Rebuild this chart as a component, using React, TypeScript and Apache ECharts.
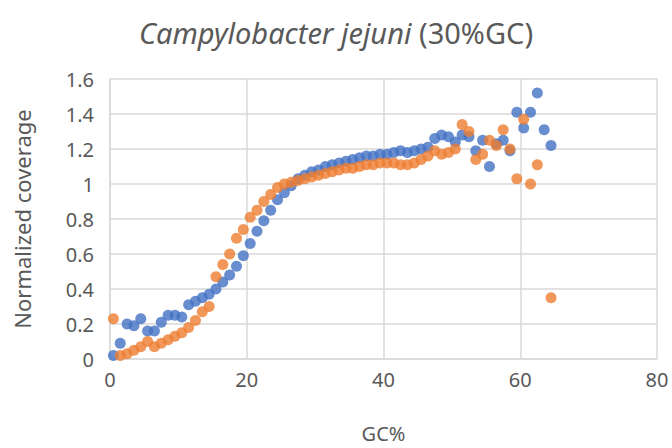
import React, { useEffect, useRef } from "react";
import * as echarts from "echarts";

const gcPercent = [
  0.5, 1.5, 2.5, 3.5, 4.5, 5.5, 6.5, 7.5, 8.5, 9.5,
  10.5, 11.5, 12.5, 13.5, 14.5, 15.5, 16.5, 17.5, 18.5, 19.5,
  20.5, 21.5, 22.5, 23.5, 24.5, 25.5, 26.5, 27.5, 28.5, 29.5,
  30.5, 31.5, 32.5, 33.5, 34.5, 35.5, 36.5, 37.5, 38.5, 39.5,
  40.5, 41.5, 42.5, 43.5, 44.5, 45.5, 46.5, 47.5, 48.5, 49.5,
  50.5, 51.5, 52.5, 53.5, 54.5, 55.5, 56.5, 57.5, 58.5, 59.5,
  60.5, 61.5, 62.5, 63.5, 64.5,
];

const blueCoverage = [
  0.02, 0.09, 0.2, 0.19, 0.23, 0.16, 0.16, 0.21, 0.25, 0.25,
  0.24, 0.31, 0.33, 0.35, 0.37, 0.4, 0.44, 0.48, 0.53, 0.59,
  0.66, 0.73, 0.79, 0.85, 0.91, 0.95, 0.99, 1.03, 1.05, 1.07,
  1.08, 1.1, 1.11, 1.12, 1.13, 1.14, 1.15, 1.16, 1.16, 1.17,
  1.17, 1.18, 1.19, 1.18, 1.19, 1.2, 1.21, 1.26, 1.28, 1.27,
  1.24, 1.28, 1.27, 1.19, 1.25, 1.1, 1.23, 1.25, 1.19, 1.41,
  1.32, 1.41, 1.52, 1.31, 1.22,
];

const orangeCoverage: (number | null)[] = [
  0.23, 0.02, 0.03, 0.05, 0.07, 0.1, 0.07, 0.09, 0.11, 0.13,
  0.15, 0.18, 0.22, 0.27, 0.3, 0.47, 0.54, 0.6, 0.69, 0.74,
  0.81, 0.85, 0.9, 0.94, 0.98, 1.0, 1.01, 1.02, 1.03, 1.04,
  1.05, 1.06, 1.07, 1.08, 1.09, 1.09, 1.1, 1.11, 1.11, 1.12,
  1.12, 1.12, 1.11, 1.11, 1.12, 1.14, 1.16, 1.19, 1.17, 1.18,
  1.2, 1.34, 1.3, 1.14, 1.17, 1.25, 1.22, 1.31, 1.2, 1.03,
  1.37, 1.0, 1.11, null, 0.35,
];

const FONT = "Noto Sans";
const TEXT = "#595959";
const GRID = "#d9d9d9";

export default function App() {
  const ref = useRef<HTMLDivElement>(null);
  useEffect(() => {
    if (!ref.current) return;
    const chart = echarts.init(ref.current, null, { renderer: "svg" });
    const blueData = gcPercent.map((x, i) => [x, blueCoverage[i]]);
    const orangeData = gcPercent
      .map((x, i) => [x, orangeCoverage[i]])
      .filter((p) => p[1] !== null);
    chart.setOption({
      animation: false,
      backgroundColor: "#ffffff",
      title: {
        text: "{i|Campylobacter jejuni} (30%GC)",
        left: "center",
        top: 13,
        textStyle: {
          fontFamily: FONT,
          fontSize: 29,
          fontWeight: "normal",
          color: TEXT,
          rich: {
            i: { fontFamily: FONT, fontSize: 29, fontStyle: "italic", color: TEXT },
          },
        },
      },
      grid: { left: 110, right: 15, top: 79, bottom: 86 },
      xAxis: {
        type: "value",
        min: 0,
        max: 80,
        interval: 20,
        name: "GC%",
        nameLocation: "middle",
        nameGap: 64,
        nameTextStyle: { fontFamily: FONT, fontSize: 20, color: TEXT },
        axisLine: { show: true, lineStyle: { color: GRID, width: 1.5 } },
        axisTick: { show: false },
        axisLabel: { fontFamily: FONT, fontSize: 20, color: TEXT, margin: 10 },
        splitLine: { show: true, lineStyle: { color: GRID, width: 1.5 } },
      },
      yAxis: {
        type: "value",
        min: 0,
        max: 1.6,
        interval: 0.2,
        name: "Normalized coverage",
        nameLocation: "middle",
        nameGap: 77,
        nameTextStyle: { fontFamily: FONT, fontSize: 22, color: TEXT },
        axisLine: { show: true, lineStyle: { color: GRID, width: 1.5 } },
        axisTick: { show: false },
        axisLabel: { fontFamily: FONT, fontSize: 20, color: TEXT, margin: 16 },
        splitLine: { show: true, lineStyle: { color: GRID, width: 1.5 } },
      },
      series: [
        {
          type: "scatter",
          data: blueData,
          symbolSize: 11,
          itemStyle: { color: "#4472C4" },
        },
        {
          type: "scatter",
          data: orangeData,
          symbolSize: 11,
          itemStyle: { color: "#ED7D31" },
        },
      ],
    });
    return () => chart.dispose();
  }, []);
  return <div ref={ref} style={{ width: 672, height: 448, position: "absolute", left: 0, top: 0 }} />;
}
